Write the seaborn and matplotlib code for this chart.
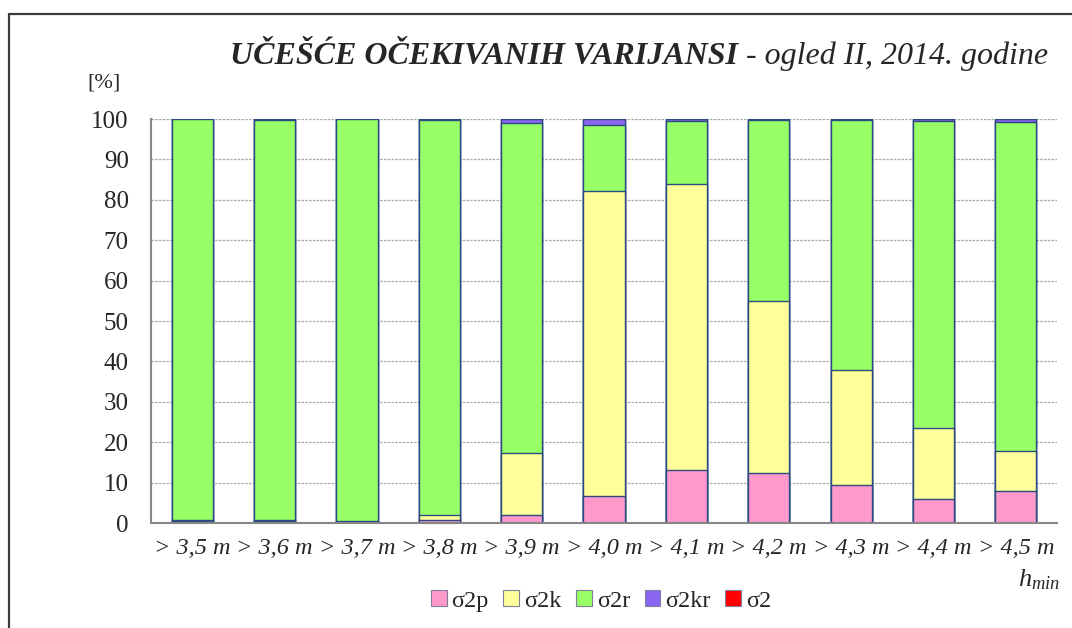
import numpy as np
import pandas as pd
import matplotlib
matplotlib.use("Agg")
import matplotlib.pyplot as plt
import seaborn as sns
from matplotlib.patches import Patch
from matplotlib.lines import Line2D

# Share of expected variances per minimum height class
categories = ["> 3,5 m", "> 3,6 m", "> 3,7 m", "> 3,8 m", "> 3,9 m", "> 4,0 m",
              "> 4,1 m", "> 4,2 m", "> 4,3 m", "> 4,4 m", "> 4,5 m"]
sigma2p = [0.4, 0.5, 0.2, 0.7, 2.1, 6.6, 13.1, 12.4, 9.3, 6.0, 7.8]
sigma2k = [0.3, 0.2, 0.2, 1.3, 15.3, 75.6, 70.8, 42.5, 28.6, 17.4, 10.1]
sigma2r = [99.2, 99.1, 99.5, 97.7, 81.7, 16.4, 15.6, 44.9, 61.8, 76.1, 81.4]
sigma2kr = [0.1, 0.2, 0.1, 0.3, 0.9, 1.4, 0.5, 0.2, 0.3, 0.5, 0.7]
sigma2 = [0.0] * 11

series_names = ["σ2p", "σ2k", "σ2r", "σ2kr", "σ2"]
series_values = [sigma2p, sigma2k, sigma2r, sigma2kr, sigma2]
series_colors = ["#FF99CC", "#FFFF99", "#99FF66", "#8A66F0", "#FF0000"]
edge_color = "#2A4A80"

sns.set_style("white")
plt.rcParams["font.family"] = ["Liberation Serif", "DejaVu Serif"]
plt.rcParams["mathtext.fontset"] = "custom"
plt.rcParams["mathtext.it"] = "Liberation Serif:italic"
plt.rcParams["mathtext.rm"] = "Liberation Serif"

W, H = 1072, 628
fig = plt.figure(figsize=(W / 100, H / 100), dpi=100)
ax = fig.add_axes([151 / W, 1 - 523 / H, (1057 - 151) / W, (523 - 119) / H])

# Chart-area frame (top and left edges)
frame_kw = dict(color="#3C3C3C", linewidth=1.6, transform=fig.transFigure)
fig.add_artist(Line2D([9 / W, 1.0], [1 - 14 / H, 1 - 14 / H], **frame_kw))
fig.add_artist(Line2D([9 / W, 9 / W], [0.0, 1 - 14 / H], **frame_kw))

# Stack by drawing cumulative totals from the top series down
df = pd.DataFrame({"category": categories})
cum = np.zeros(len(categories))
cums = []
for vals in series_values:
    cum = cum + np.array(vals)
    cums.append(cum.copy())
for name, color, total in reversed(list(zip(series_names, series_colors, cums))):
    df["total"] = total
    sns.barplot(data=df, x="category", y="total", order=categories, color=color,
                saturation=1, width=0.5, edgecolor=edge_color, linewidth=1.0,
                errorbar=None, ax=ax)

ax.set_xlim(-0.5, len(categories) - 0.5)
ax.set_ylim(0, 100)
ax.set_yticks(np.arange(0, 101, 10))
ax.yaxis.grid(True, linestyle=(0, (2, 1)), color="#A8A8A8", linewidth=0.9)
ax.set_axisbelow(True)

for side in ["top", "right"]:
    ax.spines[side].set_visible(False)
for side in ["left", "bottom"]:
    ax.spines[side].set_color("#868686")
    ax.spines[side].set_linewidth(1.5)

ax.set_xlabel("")
ax.set_ylabel("")
ax.tick_params(axis="y", which="major", direction="out", length=8, width=1.2,
               color="#868686", labelsize=18, pad=8)
ax.tick_params(axis="x", which="major", length=0, labelsize=17.5, pad=11)
ax.set_xticks(np.arange(-0.5, len(categories), 1.0), minor=True)
ax.tick_params(axis="x", which="minor", direction="out", length=6, width=1.2,
               color="#868686")
for lbl in ax.get_xticklabels():
    lbl.set_fontstyle("italic")

# Title: bold italic heading followed by italic subtitle
renderer = fig.canvas.get_renderer()
t1 = fig.text(230 / W, 1 - 56 / H, "UČEŠĆE OČEKIVANIH VARIJANSI", fontsize=23,
              fontweight="bold", fontstyle="italic", ha="left", va="center")
bb = t1.get_window_extent(renderer=renderer)
fig.text(bb.x1 / fig.bbox.width, 1 - 56 / H, " - ogled II, 2014. godine", fontsize=23,
         fontstyle="italic", ha="left", va="center")

fig.text(104 / W, 1 - 83 / H, "[%]", fontsize=16, ha="center", va="center")
fig.text(1060 / W, 1 - 580 / H, r"$h_{min}$", fontsize=19, ha="right", va="center")

handles = [Patch(facecolor=c, edgecolor="#7F7F9F", linewidth=0.8) for c in series_colors]
fig.legend(handles, series_names, loc="center", bbox_to_anchor=(601 / W, 1 - 601 / H),
           ncol=5, frameon=False, fontsize=17.5, handlelength=0.65, handleheight=0.65,
           handletextpad=0.2, columnspacing=0.6, borderaxespad=0)

fig.savefig("out.png", dpi=100)
